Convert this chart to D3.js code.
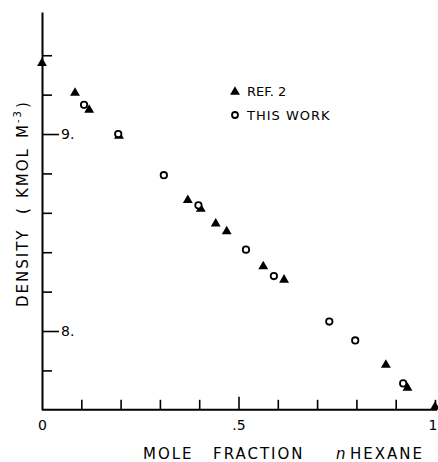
<!DOCTYPE html>
<html>
<head>
<meta charset="utf-8">
<script src="https://d3js.org/d3.v7.min.js"></script>
<style>
  body { margin: 0; background: #fff; }
  text { font-family: "DejaVu Sans", sans-serif; fill: #000; }
</style>
</head>
<body>
<div id="chart"></div>
<script>
  // REF. 2 data (triangles): mole fraction n-hexane, density kmol/m3
  var refX = [0.0, 0.084, 0.12, 0.196, 0.371, 0.404, 0.442, 0.47, 0.563, 0.616, 0.875, 0.93, 1.0];
  var refY = [9.36, 9.209, 9.122, 8.991, 8.664, 8.62, 8.545, 8.506, 8.328, 8.26, 7.828, 7.711, 7.615];

  // THIS WORK data (open circles)
  var workX = [0.107, 0.194, 0.31, 0.398, 0.519, 0.59, 0.731, 0.797, 0.919];
  var workY = [9.148, 9.0, 8.791, 8.638, 8.413, 8.279, 8.048, 7.952, 7.734];

  var xTicks = [0.1, 0.2, 0.3, 0.4, 0.5, 0.6, 0.7, 0.8, 0.9, 1.0];
  var xLabels = [0, 0.5, 1];
  var yTicks = [7.8, 8.0, 8.2, 8.4, 8.6, 8.8, 9.0, 9.2, 9.4];
  var yLabels = [8, 9];

  var W = 438, H = 462;
  var svg = d3.select("#chart").append("svg")
      .attr("width", W)
      .attr("height", H);

  // scales
  var x = d3.scaleLinear().domain([0, 1]).range([42, 435]);
  var y = d3.scaleLinear().domain([7.6, 9.62]).range([409.8, 11.9]);

  // y axis, ticks pointing inward (right), labels beside the long ticks
  var yAxis = svg.append("g")
      .attr("transform", "translate(" + x(0) + ",0)")
      .call(d3.axisRight(y)
        .tickValues(yTicks)
        .tickSize(10)
        .tickSizeOuter(0)
        .tickPadding(3)
        .tickFormat(function(d) { return yLabels.indexOf(Math.round(d * 10) / 10) >= 0 ? d3.format("d")(d) + "." : ""; }));
  yAxis.select(".domain").attr("stroke-width", 2);
  yAxis.selectAll(".tick line").attr("stroke-width", 1.6)
      .attr("x2", function(d) { return yLabels.indexOf(Math.round(d * 10) / 10) >= 0 ? 17 : 10; });
  yAxis.selectAll(".tick text")
      .attr("x", 19)
      .style("font-size", "14px")
      .style("font-family", "DejaVu Sans, sans-serif");

  // x axis, ticks pointing up, labels below
  var xAxis = svg.append("g")
      .attr("transform", "translate(0," + y(7.6) + ")")
      .call(d3.axisBottom(x)
        .tickValues([0].concat(xTicks))
        .tickSize(-10)
        .tickSizeOuter(0)
        .tickPadding(10)
        .tickFormat(function(d) {
          if (d === 0) return "0";
          if (d === 0.5) return ".5";
          if (d === 1) return "1";
          return "";
        }));
  xAxis.select(".domain").attr("stroke-width", 2)
      .attr("d", "M" + x(0) + ",0H" + (x(1) + 2));
  xAxis.selectAll(".tick line").attr("stroke-width", 1.6)
      .attr("y2", function(d) { return d === 0 ? 0 : (d === 0.5 ? -13 : -10); });
  xAxis.selectAll(".tick text")
      .style("font-size", "14px")
      .style("font-family", "DejaVu Sans, sans-serif");
  // keep the "1" inside the page edge
  xAxis.selectAll(".tick text")
      .filter(function(d) { return d === 1; })
      .attr("text-anchor", "end")
      .attr("x", 2);

  // marks
  var tri = d3.symbol().type(d3.symbolTriangle).size(42);

  svg.append("g").selectAll("path")
    .data(refX.map(function(v, i) { return [v, refY[i]]; }))
    .enter().append("path")
      .attr("d", tri)
      .attr("transform", function(d) { return "translate(" + x(d[0]) + "," + y(d[1]) + ")"; })
      .attr("fill", "#000");

  svg.append("g").selectAll("circle")
    .data(workX.map(function(v, i) { return [v, workY[i]]; }))
    .enter().append("circle")
      .attr("cx", function(d) { return x(d[0]); })
      .attr("cy", function(d) { return y(d[1]); })
      .attr("r", 3.2)
      .attr("fill", "#fff")
      .attr("stroke", "#000")
      .attr("stroke-width", 1.8);

  // legend
  svg.append("path").attr("d", tri).attr("transform", "translate(235,92)").attr("fill", "#000");
  svg.append("text").attr("x", 247).attr("y", 96).style("font-size", "13px").text("REF. 2");
  svg.append("circle").attr("cx", 235).attr("cy", 115).attr("r", 3)
      .attr("fill", "#fff").attr("stroke", "#000").attr("stroke-width", 1.8);
  svg.append("text").attr("x", 247).attr("y", 120).style("font-size", "13px")
      .style("letter-spacing", "1px").text("THIS WORK");

  // x axis title
  var xt = svg.append("g").style("font-size", "15px").style("letter-spacing", "2px");
  xt.append("text").attr("x", 143).attr("y", 459).text("MOLE");
  xt.append("text").attr("x", 213).attr("y", 459).text("FRACTION");
  xt.append("text").attr("x", 336).attr("y", 459).style("font-style", "italic").text("n");
  xt.append("text").attr("x", 350).attr("y", 459).text("HEXANE");

  // y axis title
  var yt = svg.append("g").attr("transform", "translate(28,0) rotate(-90)")
      .style("font-size", "15px").style("letter-spacing", "2px");
  yt.append("text").attr("x", -307).attr("y", 0).text("DENSITY");
  yt.append("text").attr("x", -214).attr("y", 0).text("(");
  yt.append("text").attr("x", -198).attr("y", 0).text("KMOL");
  var m = yt.append("text").attr("x", -138).attr("y", 0).text("M");
  m.append("tspan").attr("dy", -7).style("font-size", "10px").text("-3");
  yt.append("text").attr("x", -108).attr("y", 0).text(")");
</script>
</body>
</html>
